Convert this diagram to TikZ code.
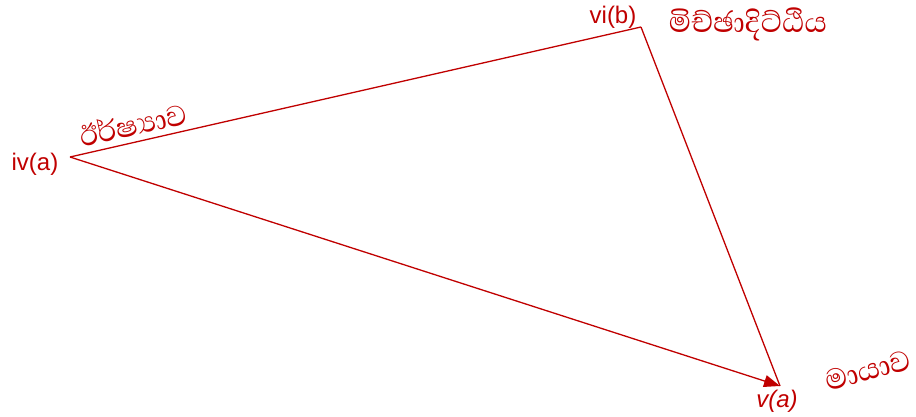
\documentclass[tikz,border=0pt]{standalone}
\usepackage{fontspec}
\setmainfont{Liberation Sans}
\newfontfamily\sinhala[Script=Sinhala]{Abhaya Libre}
\usetikzlibrary{arrows.meta}
\definecolor{darkred}{RGB}{192,0,0}

\begin{document}
\begin{tikzpicture}[
  x=1pt, y=-1pt,
  font=\fontsize{24}{28}\selectfont,
  every node/.style={text=darkred, inner sep=0pt},
  edge/.style={draw=darkred, line width=1.3pt},
  arr/.style={edge, -{Triangle[length=16pt, width=12pt]}},
  sin/.style={font=\sinhala\fontsize{37}{42}\selectfont}
]
  \useasboundingbox (0,0) rectangle (916,417);

  \coordinate (iva) at (70,157);
  \coordinate (vib) at (641,27);
  \coordinate (va) at (780,386);

  \node (ivalabel) at (35,164) {iv(a)};
  \node (viblabel) at (613,17) {vi(b)};
  \node[font=\itshape\fontsize{24}{28}\selectfont] (valabel) at (777,401) {v(a)};

  \node[sin] (miccha) at (748,24) {මිච්ඡාදිට්ඨිය};
  \node[sin, rotate=13] (irshya) at (133,124) {ඊර්ෂ්‍යාව};
  \node[sin, rotate=15] (maya) at (868,370) {මායාව};

  \draw[edge] (iva) -- (vib);
  \draw[edge] (vib) -- (va);
  \draw[arr] (iva) -- (va);
\end{tikzpicture}
\end{document}
